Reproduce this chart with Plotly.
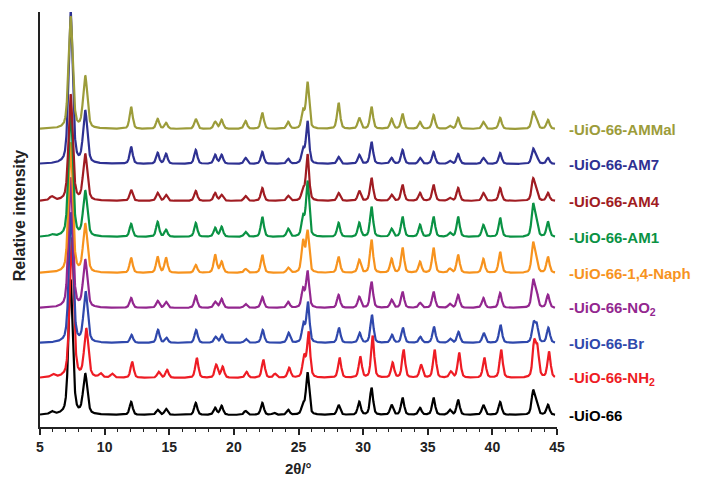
import numpy as np
import plotly.graph_objects as go

# Peak positions (2theta, degrees)
peak_pos = [5.9, 7.37, 8.5, 9.6, 10.5, 12.05, 14.1, 14.75, 17.05, 18.55, 19.05, 20.9, 22.2, 23.1,
            24.2, 25.35, 25.7, 28.1, 29.7, 30.65, 32.2, 33.05, 34.4, 35.45, 36.7, 37.35, 39.3,
            40.6, 43.15, 43.4, 44.3]

# Series names (bottom to top) and peak heights (a.u.)
names = ["-UiO-66", "-UiO-66-NH<sub>2</sub>", "-UiO-66-Br", "-UiO-66-NO<sub>2</sub>",
         "-UiO-66-1,4-Naph", "-UiO-66-AM1", "-UiO-66-AM4", "-UiO-66-AM7", "-UiO-66-AMMal"]

h_uio66 = [3, 135, 40, 0, 0, 13, 5, 6, 12, 7, 9, 4, 12, 2, 5, 10, 42, 10, 13, 27, 10, 17, 7, 17, 5, 15, 10, 13, 23, 12, 10]
h_nh2 = [3, 140, 48, 4, 4, 16, 6, 8, 20, 13, 11, 6, 18, 4, 10, 21, 45, 20, 21, 42, 15, 28, 13, 28, 6, 25, 20, 28, 34, 28, 26]
h_br = [0, 130, 50, 0, 0, 8, 13, 5, 13, 6, 8, 4, 13, 0, 10, 18, 40, 15, 10, 28, 8, 15, 6, 16, 4, 11, 10, 18, 19, 17, 15]
h_no2 = [0, 130, 47, 0, 0, 10, 7, 6, 12, 6, 9, 4, 11, 0, 6, 18, 36, 13, 11, 26, 8, 16, 5, 16, 4, 13, 10, 15, 26, 16, 13]
h_naph = [0, 130, 48, 0, 0, 15, 16, 15, 8, 18, 11, 4, 18, 0, 5, 31, 41, 16, 13, 33, 14, 25, 11, 25, 4, 18, 14, 21, 29, 12, 16]
h_am1 = [2, 130, 45, 0, 0, 13, 15, 7, 14, 9, 10, 5, 20, 0, 8, 19, 55, 14, 14, 30, 8, 20, 12, 20, 4, 20, 12, 19, 31, 15, 15]
h_am4 = [4, 106, 46, 0, 0, 11, 8, 6, 10, 8, 6, 5, 13, 0, 5, 11, 46, 8, 10, 23, 6, 16, 8, 16, 3, 13, 8, 13, 21, 10, 8]
h_am7 = [0, 152, 52, 0, 0, 17, 11, 10, 14, 9, 9, 6, 12, 0, 5, 14, 42, 7, 9, 22, 6, 14, 6, 12, 3, 10, 6, 11, 14, 8, 6]
h_ammal = [0, 112, 52, 0, 0, 22, 10, 6, 10, 7, 9, 8, 16, 0, 7, 17, 46, 26, 11, 22, 10, 15, 7, 14, 3, 11, 7, 11, 16, 10, 9]

heights = [h_uio66, h_nh2, h_br, h_no2, h_naph, h_am1, h_am4, h_am7, h_ammal]
shifts = [0.0, 0.08, 0.03, 0.0, 0.0, 0.0, 0.0, 0.0, 0.0]
offsets = [0, 37, 72, 107, 142, 178, 214, 251, 286]

colors = ["#000000", "#ee1c24", "#2f48ac", "#93278f", "#f7931e", "#0a9244", "#a01c22", "#2e3192", "#9c9c3a"]

x = np.arange(5.0, 44.86, 0.01)


def profile(pos, hts, shift):
    y = np.zeros_like(x)
    for p, h in zip(pos, hts):
        if h == 0:
            continue
        w = 0.19 if p < 9 else 0.14
        d = (x - (p + shift)) / w
        lor = 1.0 / (1.0 + d * d)
        gau = np.exp(-np.log(2) * d * d)
        y += h * (0.45 * lor + 0.55 * gau)
    return y


FONT = "Liberation Sans, Arial"

fig = go.Figure()
for name, hts, sh, off, col in zip(names, heights, shifts, offsets, colors):
    fig.add_trace(go.Scatter(x=x, y=profile(peak_pos, hts, sh) + off, mode="lines",
                             line=dict(color=col, width=2.2), name=name, showlegend=False))
    fig.add_annotation(x=1, xref="paper", y=off, yref="y", text=name, showarrow=False,
                       xanchor="left", yanchor="middle", xshift=10,
                       font=dict(family=FONT, size=15, color=col, weight="bold"))

fig.add_annotation(x=0, xref="paper", y=0.51, yref="paper", text="Relative intensity",
                   textangle=-90, showarrow=False, xanchor="center", yanchor="middle", xshift=-21,
                   font=dict(family=FONT, size=16, color="#222222", weight="bold"))
fig.add_annotation(x=0.5, xref="paper", y=0, yref="paper", text="2θ/°", showarrow=False,
                   xanchor="center", yanchor="middle", yshift=-41,
                   font=dict(family=FONT, size=15, color="#222222", weight="bold"))

fig.update_layout(
    width=688, height=474,
    margin=dict(l=32, r=139, t=4, b=55),
    plot_bgcolor="white", paper_bgcolor="white",
    xaxis=dict(range=[5, 45], tickvals=[5, 10, 15, 20, 25, 30, 35, 40, 45], ticks="outside",
               ticklen=6, tickwidth=1.5, tickcolor="#222222", showline=True, linecolor="#222222",
               linewidth=1.5, showgrid=False, zeroline=False,
               minor=dict(dtick=1, ticks="outside", ticklen=3.5, tickwidth=1, tickcolor="#222222", showgrid=False),
               tickfont=dict(family=FONT, size=14, color="#222222", weight="bold")),
    yaxis=dict(range=[-12, 403], showticklabels=False, ticks="", showline=True, linecolor="#222222",
               linewidth=1.5, showgrid=False, zeroline=False),
)

fig.write_html("out.html")
